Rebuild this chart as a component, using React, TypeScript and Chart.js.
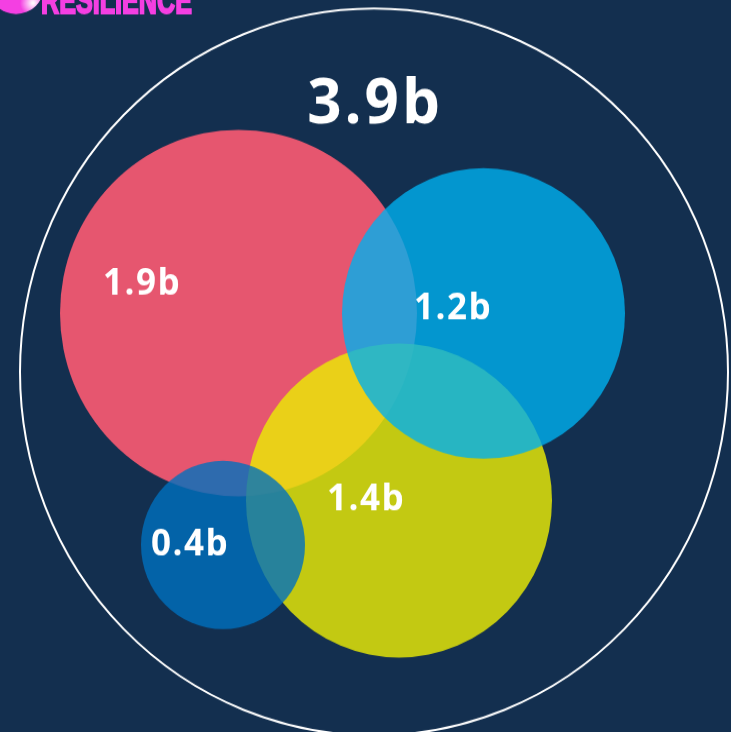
import { useEffect, useRef } from "react";
import { Chart, registerables } from "chart.js";

Chart.register(...registerables);

// Groups (the big circle is the total population)
const groups = ["Total", "Group A", "Group B", "Group C", "Group D"];
const valueLabels = ["3.9b", "1.9b", "1.4b", "0.4b", "1.2b"];
// Circle centres and radii in the chart's own coordinate system
const centerX = [374, 238.5, 399, 223, 483.5];
const centerY = [372, 313, 500.5, 545, 313.5];
const radius = [354, 178.5, 153, 82, 141.5];
// Label anchors (same coordinate system)
const labelX = [375, 142, 366, 190, 453];
const labelY = [123, 295, 510, 555, 319];

const fills = [
  "rgba(0,0,0,0)",
  "rgba(230,86,111,1)",
  "rgba(234,235,5,0.82)",
  "rgba(0,112,190,0.8)",
  "rgba(0,176,239,0.8)",
];
const drawOrder = [5, 4, 3, 2, 1];

const BG = "#132f4f";
const W = 731;
const H = 732;
const H_INNER = 713; // picture is slightly stretched vertically

export default function App() {
  const ref = useRef<HTMLCanvasElement | null>(null);

  useEffect(() => {
    document.body.style.margin = "0";
    document.body.style.background = BG;
    const canvas = ref.current;
    if (!canvas) return;

    const bgPlugin = {
      id: "bg",
      beforeDraw(chart: any) {
        const c = chart.ctx;
        const sy = H_INNER / H;
        c.save();
        c.fillStyle = BG;
        c.fillRect(0, 0, chart.width, chart.height);
        c.scale(1, sy);
        // logo (cut off at the top)
        c.fillStyle = "#f43fe2";
        c.beginPath();
        c.arc(16, -14, 28, 0, Math.PI * 2);
        c.fill();
        const g = c.createRadialGradient(33, 3, 1, 33, 3, 13);
        g.addColorStop(0, "rgba(255,255,255,0.95)");
        g.addColorStop(1, "rgba(255,255,255,0)");
        c.fillStyle = g;
        c.beginPath();
        c.arc(16, -14, 28, 0, Math.PI * 2);
        c.fill();
        c.fillStyle = "#f43fe2";
        c.strokeStyle = "#f43fe2";
        c.lineWidth = 2;
        c.lineJoin = "miter";
        c.font = "bold 38px 'Liberation Sans Narrow', 'Liberation Sans', sans-serif";
        c.textBaseline = "alphabetic";
        c.textAlign = "left";
        const txt = "RESILIENCE";
        const w = c.measureText(txt).width;
        c.translate(41, 13);
        c.scale(151 / w, 1);
        c.fillText(txt, 0, 0);
        c.strokeText(txt, 0, 0);
        c.restore();
      },
    };

    const labelPlugin = {
      id: "labels",
      afterDatasetsDraw(chart: any) {
        const c = chart.ctx;
        const xs = chart.scales.x;
        const ys = chart.scales.y;
        c.save();
        c.fillStyle = "#ffffff";
        c.textAlign = "center";
        c.textBaseline = "alphabetic";
        valueLabels.forEach((t, i) => {
          const big = i === 0;
          c.font = big ? "bold 60px 'Open Sans', sans-serif" : "bold 35px 'Open Sans', sans-serif";
          (c as any).letterSpacing = big ? "3px" : "1.5px";
          c.fillText(t, xs.getPixelForValue(labelX[i]), ys.getPixelForValue(labelY[i]));
        });
        c.restore();
      },
    };

    const chart = new Chart(canvas, {
      type: "bubble",
      data: {
        datasets: groups.map((g, i) => ({
          label: g,
          data: [{ x: centerX[i], y: centerY[i], r: radius[i] }],
          backgroundColor: fills[i],
          borderColor: i === 0 ? "#ffffff" : "rgba(0,0,0,0)",
          borderWidth: i === 0 ? 2 : 0,
          hoverBorderWidth: i === 0 ? 2 : 0,
          order: drawOrder[i],
          clip: false as any,
        })),
      },
      options: {
        animation: false,
        responsive: false,
        maintainAspectRatio: false,
        layout: { padding: 0, autoPadding: false },
        events: [],
        scales: {
          x: { type: "linear", min: 0, max: W, display: false },
          y: { type: "linear", min: 0, max: H, reverse: true, display: false },
        },
        plugins: {
          legend: { display: false },
          tooltip: { enabled: false },
        },
      },
      plugins: [bgPlugin, labelPlugin],
    });
    return () => chart.destroy();
  }, []);

  return (
    <div style={{ position: "fixed", left: 0, top: 0, width: W, height: H, background: BG, overflow: "hidden" }}>
      <canvas ref={ref} width={W} height={H_INNER} style={{ display: "block", width: W, height: H }} />
    </div>
  );
}
